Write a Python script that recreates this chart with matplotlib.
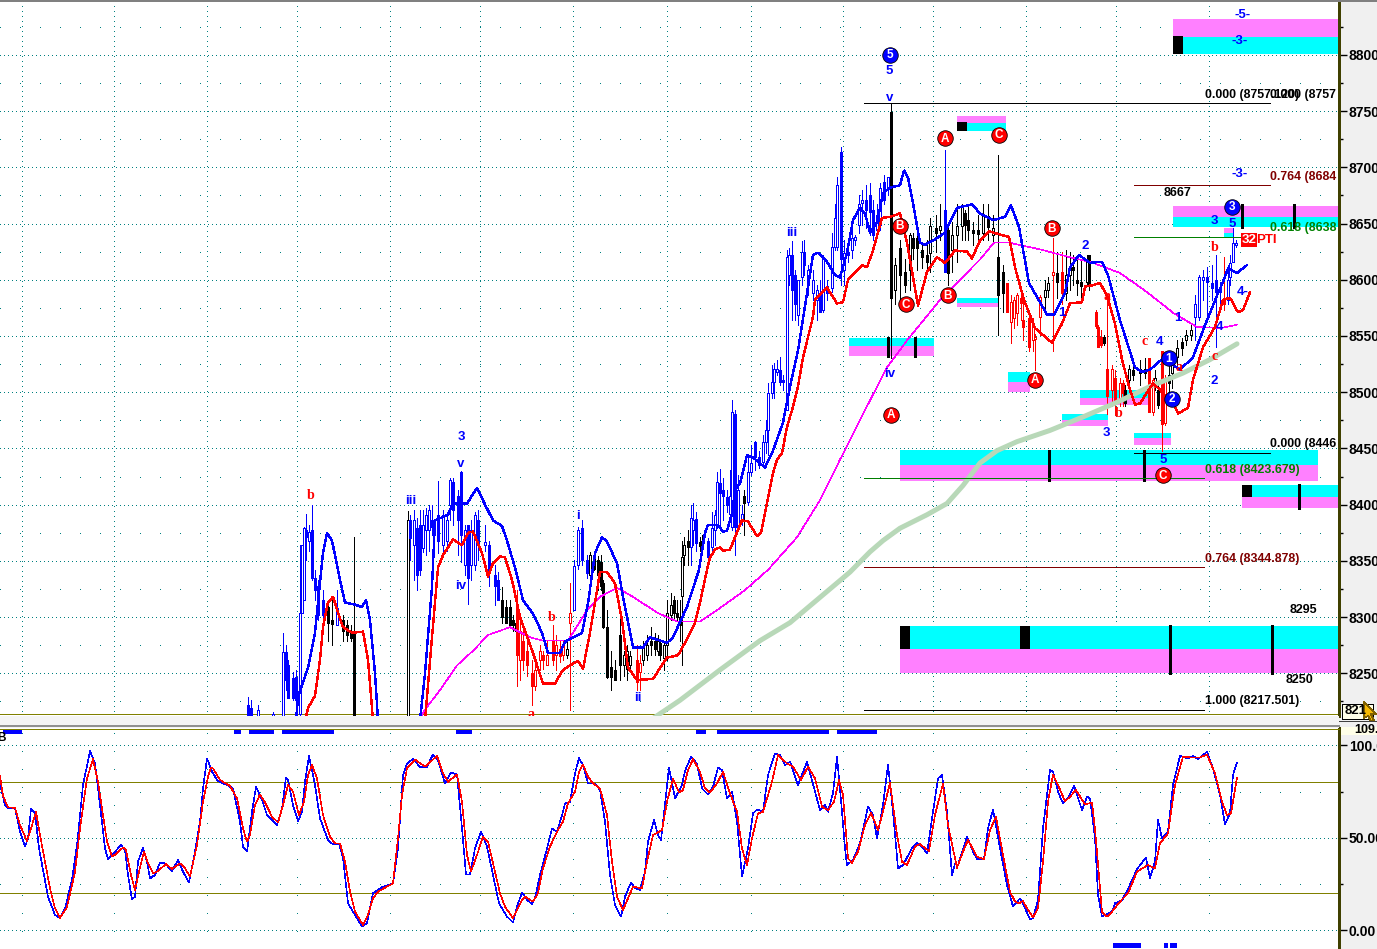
#!/usr/bin/env python3
"""Elliott wave price chart with fib levels, supply/demand zones and a stochastic panel."""
import matplotlib
matplotlib.use('Agg')
import matplotlib.pyplot as plt
from matplotlib.lines import Line2D
from matplotlib.patches import Polygon, Rectangle
from matplotlib.ticker import FixedLocator, FixedFormatter

W, H = 1377, 949
plt.rcParams['font.family'] = ['Liberation Sans', 'DejaVu Sans']
plt.rcParams['lines.antialiased'] = False
plt.rcParams['patch.antialiased'] = False

BLUE = '#0000ff'
RED = '#ff0000'
BLACK = '#000000'
OLIVE = '#808000'
TEAL = '#008080'

# candles: x, open, high, low, close
blue_1 = [(248,8222,8229,8208,8208),(251,8219,8226,8208,8208),(258,8208,8222,8208,8217),(273,8208,8216,8208,8214),
          (283,8208,8286,8208,8269),(286,8269,8275,8235,8244),(288,8257,8262,8228,8228),(293,8246,8251,8226,8228),
          (296,8247,8253,8217,8226),(300,8214,8364,8208,8304),(302,8304,8364,8304,8364),(304,8315,8380,8315,8379),
          (306,8377,8392,8351,8371),(309,8368,8382,8359,8376),(312,8377,8400,8333,8335),(315,8335,8342,8315,8324),
          (318,8328,8333,8297,8302),(323,8315,8324,8293,8302),(337,8293,8324,8295,8308)]
black_1 = [(328,8309,8315,8279,8295),(332,8297,8315,8275,8294),(343,8297,8302,8279,8288),(347,8293,8297,8279,8284),
           (351,8286,8293,8279,8281),(354,8288,8371,8208,8208),(408,8208,8394,8208,8386)]
blue_2 = [(410,8386,8391,8351,8370),(414,8364,8395,8333,8386),(417,8379,8388,8324,8337),(420,8382,8395,8337,8342),
          (423,8361,8395,8358,8382),(426,8377,8397,8355,8391),(429,8377,8400,8359,8395),(432,8386,8400,8373,8380),
          (438,8391,8421,8357,8368),(443,8364,8395,8355,8391),(447,8368,8393,8359,8386),(450,8400,8424,8386,8422),
          (453,8420,8424,8382,8395),(458,8408,8413,8355,8386),(461,8429,8430,8349,8373),(465,8346,8382,8337,8377),
          (468,8382,8382,8312,8335),(471,8346,8386,8333,8377),(475,8346,8393,8342,8391),(478,8386,8395,8351,8364),
          (485,8364,8382,8359,8367),(489,8364,8368,8328,8342),(495,8337,8346,8311,8328),(498,8333,8340,8315,8315)]
black_2 = [(502,8315,8327,8295,8300),(506,8309,8315,8295,8295),(510,8309,8315,8293,8293),(513,8297,8302,8288,8293),
           (516,8295,8295,8286,8288)]
red_1 = [(517,8312,8324,8239,8266),(520,8262,8297,8244,8288),(523,8279,8293,8253,8262),(527,8270,8279,8248,8257),
         (532,8250,8262,8222,8239),(535,8239,8262,8235,8253),(540,8262,8275,8253,8270),(543,8266,8270,8254,8262),
         (547,8257,8279,8257,8266),(553,8279,8293,8257,8262),(556,8266,8284,8253,8275),(560,8272,8279,8260,8265),
         (563,8266,8279,8262,8275),(570,8295,8330,8217,8304)]
black_3 = [(567,8266,8279,8264,8272)]
blue_3 = [(574,8306,8351,8306,8345),(578,8346,8380,8343,8377),(582,8379,8386,8346,8351),(587,8351,8355,8335,8339)]
black_4 = [(590,8337,8358,8328,8355),(594,8352,8357,8342,8343),(598,8351,8354,8324,8337),(601,8349,8355,8324,8328),
           (603,8330,8333,8290,8291),(607,8291,8306,8246,8247),(611,8256,8270,8235,8247),(615,8253,8262,8244,8244),
           (620,8284,8310,8244,8257),(624,8257,8270,8248,8266),(627,8254,8275,8244,8270),(630,8257,8270,8253,8265)]
red_2 = [(637,8262,8275,8235,8242),(640,8251,8266,8235,8259)]
black_5 = [(643,8262,8279,8257,8273),(647,8266,8284,8262,8275),(651,8279,8291,8266,8275),(655,8279,8286,8266,8272),
           (658,8270,8284,8266,8279),(660,8277,8279,8262,8266),(664,8264,8279,8253,8275),(667,8275,8315,8262,8304),
           (671,8302,8321,8297,8311),(674,8315,8319,8297,8304),(677,8304,8315,8297,8300),(680,8300,8315,8279,8293),
           (682,8319,8368,8257,8353),(684,8355,8371,8346,8364),(688,8368,8377,8346,8362)]
blue_4 = [(691,8362,8400,8346,8388),(693,8377,8401,8364,8386),(696,8387,8393,8359,8366)]
black_6 = [(700,8367,8371,8359,8363),(702,8364,8373,8358,8368),(744,8408,8413,8373,8401)]
blue_5 = [(708,8368,8370,8352,8353),(712,8362,8393,8359,8379),(715,8377,8395,8364,8391),(717,8382,8429,8379,8420),
          (720,8419,8432,8382,8410),(723,8413,8424,8386,8408),(727,8407,8413,8393,8400),(730,8392,8431,8391,8408),
          (732,8380,8493,8377,8482),(735,8481,8484,8355,8380),(738,8380,8426,8377,8413),(742,8386,8400,8382,8392),
          (748,8402,8444,8400,8429),(751,8429,8453,8426,8437),(755,8456,8457,8431,8442),(759,8442,8448,8433,8435),
          (763,8438,8462,8435,8456),(766,8456,8475,8446,8466),(768,8466,8508,8444,8499),(772,8499,8524,8495,8509),
          (774,8509,8526,8495,8521),(777,8518,8529,8515,8521),(780,8520,8531,8506,8509),(783,8511,8515,8502,8509),
          (787,8484,8626,8484,8620),(789,8604,8628,8595,8622),(792,8622,8634,8564,8591),(795,8604,8609,8564,8578),
          (798,8569,8600,8560,8600),(802,8602,8634,8595,8625),(804,8625,8635,8604,8613),(808,8595,8613,8586,8609),
          (813,8588,8609,8582,8600),(817,8582,8595,8564,8591),(820,8586,8600,8571,8571),(823,8573,8622,8571,8618),
          (827,8594,8600,8582,8588),(832,8593,8642,8589,8629),(835,8629,8667,8626,8655),(837,8629,8691,8626,8684),
          (841,8714,8718,8595,8618),(844,8609,8635,8595,8624),(848,8625,8631,8616,8622),(852,8626,8644,8619,8637),
          (855,8635,8640,8631,8638),(859,8649,8675,8642,8667),(862,8668,8680,8649,8671),(866,8671,8684,8646,8662),
          (870,8675,8686,8640,8660),(873,8662,8671,8635,8640),(877,8644,8667,8640,8658),(880,8649,8686,8644,8682),
          (884,8687,8693,8667,8671),(888,8682,8691,8675,8691)]
black_7 = [(891,8749,8756,8530,8584),(895,8591,8619,8578,8613),(900,8628,8635,8582,8604),(905,8607,8618,8589,8595),
           (910,8609,8642,8591,8640),(913,8637,8642,8618,8628),(917,8637,8649,8609,8628),(922,8626,8631,8610,8620),
           (927,8622,8635,8610,8616),(930,8624,8655,8607,8648),(936,8646,8658,8625,8642),(940,8644,8667,8635,8648)]
blue_6 = [(945,8662,8715,8607,8607)]
black_8 = [(948,8644,8650,8595,8606),(952,8626,8651,8607,8640),(957,8640,8667,8616,8648),(962,8648,8667,8635,8665),
           (965,8659,8662,8635,8649),(968,8653,8667,8635,8644),(973,8644,8651,8631,8642),(978,8644,8658,8635,8641),
           (983,8642,8667,8635,8658),(988,8657,8667,8635,8647),(993,8640,8658,8633,8646),(998,8620,8711,8551,8586),
           (1003,8607,8613,8571,8588)]
red_3 = [(1007,8597,8597,8571,8571),(1011,8562,8586,8544,8580),(1014,8566,8585,8557,8582),(1017,8570,8588,8560,8586),
         (1021,8584,8589,8564,8579),(1023,8564,8586,8546,8558),(1029,8566,8569,8537,8540),(1033,8546,8566,8537,8561),
         (1035,8547,8552,8520,8549),(1040,8567,8586,8551,8585),(1053,8604,8637,8537,8607),(1062,8607,8625,8578,8588)]
black_9 = [(1045,8585,8600,8573,8591),(1048,8591,8602,8585,8597),(1057,8606,8625,8584,8598),(1066,8588,8626,8582,8604),
           (1070,8604,8625,8591,8611),(1073,8611,8622,8595,8609),(1077,8600,8622,8586,8597),(1081,8598,8618,8582,8594),
           (1087,8598,8622,8595,8616),(1089,8622,8622,8591,8594),(1104,8549,8551,8542,8544)]
red_4 = [(1096,8571,8573,8557,8559),(1098,8558,8560,8540,8540),(1101,8549,8555,8540,8542),(1107,8521,8585,8481,8497),
         (1112,8502,8524,8488,8521),(1115,8513,8520,8480,8490),(1120,8493,8513,8488,8508),(1123,8508,8511,8488,8499)]
black_10 = [(1125,8502,8506,8488,8490),(1129,8511,8524,8506,8521),(1133,8520,8529,8511,8515),(1140,8521,8529,8506,8517),
            (1145,8521,8530,8513,8517),(1155,8508,8520,8502,8513),(1158,8502,8506,8486,8489)]
red_5 = [(1149,8530,8530,8482,8482),(1153,8482,8513,8480,8511),(1162,8537,8537,8448,8472),(1165,8473,8515,8471,8513),
         (1224,8584,8620,8573,8578)]
black_11 = [(1169,8515,8524,8497,8508),(1172,8517,8533,8504,8531),(1177,8531,8546,8524,8539),(1182,8545,8548,8533,8539),
            (1186,8546,8555,8542,8551),(1191,8551,8560,8546,8555)]
blue_7 = [(1195,8567,8586,8546,8578),(1199,8567,8604,8564,8602),(1203,8600,8609,8582,8602),(1207,8602,8611,8569,8598),
          (1212,8597,8613,8582,8593),(1216,8600,8622,8540,8589),(1220,8593,8598,8573,8589),(1228,8582,8613,8578,8600),
          (1230,8602,8622,8595,8615),(1233,8616,8646,8616,8633),(1236,8631,8635,8629,8633)]

# moving averages
blue_ma_x1 = [296,298,308,315,323,327,332,340,345,355,362,366,370,375,378]
blue_ma_y1 = [8208,8229,8255,8286,8357,8375,8368,8333,8313,8311,8309,8315,8297,8250,8208]
blue_ma_x2 = [420,425,432,435,448,453,467,477,485,493,502,507,515,523,533,542,548,560,565,573,582,588,595,602,607,617,
              623,633,643,650,667,673,687,699,705,708,718,723,727,732,735,740,747,753,765,773,783,790,798,807,813,818,
              827,835,840,847,853,860,865,870,877,883,890,900,904,908,913,920,925,937,945,957,972,980,993,1005,1011,
              1019,1029,1047,1054,1065,1070,1079,1090,1102,1108,1120,1135,1142,1150,1163,1180,1193,1203,1217,1223,
              1228,1237,1247]
blue_ma_y2 = [8208,8250,8327,8386,8391,8401,8401,8415,8400,8386,8381,8368,8344,8315,8303,8286,8268,8268,8278,8282,8286,
              8312,8357,8371,8367,8348,8318,8273,8273,8282,8277,8282,8309,8342,8375,8382,8382,8376,8377,8392,8413,8419,
              8444,8442,8433,8448,8473,8505,8537,8588,8622,8624,8616,8604,8602,8624,8653,8664,8659,8642,8651,8677,8682,
              8684,8697,8691,8668,8633,8631,8637,8642,8664,8667,8659,8653,8656,8666,8647,8597,8569,8569,8588,8611,8622,
              8615,8616,8604,8564,8522,8518,8520,8530,8520,8531,8555,8586,8598,8610,8606,8613]
red_ma_x1 = [305,308,315,320,323,328,333,338,343,352,363,368,373]
red_ma_y1 = [8208,8219,8230,8262,8291,8313,8318,8304,8291,8286,8287,8262,8208]
red_ma_x2 = [425,432,438,443,453,462,468,473,482,488,493,500,505,512,520,533,543,555,563,570,578,583,590,600,607,615,
             622,628,637,653,667,678,688,695,700,707,710,715,720,723,730,735,742,748,757,761,767,773,777,782,787,792,
             798,803,813,815,827,837,843,848,862,867,873,882,890,900,907,918,927,937,945,955,967,972,980,989,1009,
             1015,1024,1035,1052,1062,1070,1082,1085,1092,1100,1107,1115,1122,1130,1135,1140,1153,1160,1175,1178,
             1188,1193,1203,1215,1223,1230,1238,1243,1250]
red_ma_y2 = [8208,8282,8344,8355,8369,8364,8375,8376,8357,8336,8348,8354,8353,8333,8300,8268,8241,8241,8253,8257,8261,
             8254,8286,8340,8340,8330,8297,8255,8244,8245,8264,8266,8282,8295,8313,8342,8353,8360,8362,8359,8360,8371,
             8386,8385,8372,8375,8401,8428,8440,8446,8469,8484,8505,8531,8567,8582,8593,8579,8580,8600,8613,8611,8626,
             8655,8656,8659,8633,8577,8607,8620,8615,8626,8625,8619,8635,8643,8638,8611,8582,8557,8544,8561,8579,8580,
             8594,8595,8597,8586,8561,8529,8502,8489,8490,8508,8502,8487,8481,8486,8511,8540,8558,8582,8584,8571,8573,
             8589]
magenta_x = [418,427,440,457,473,488,510,530,543,568,587,600,617,633,657,677,700,720,745,768,783,797,820,840,865,887,
             907,940,980,994,1009,1040,1070,1093,1120,1147,1174,1197,1221,1237]
magenta_y = [8208,8220,8235,8257,8270,8284,8291,8282,8279,8279,8306,8318,8326,8318,8304,8296,8296,8308,8324,8342,8357,
             8371,8404,8440,8484,8522,8546,8582,8618,8633,8633,8627,8620,8615,8606,8589,8570,8558,8557,8560]
green_x = [650,680,720,760,790,810,850,870,883,900,927,947,963,980,997,1017,1050,1083,1117,1150,1183,1210,1237]
green_y = [8208,8226,8253,8279,8295,8310,8340,8358,8368,8379,8391,8401,8417,8437,8448,8456,8466,8478,8491,8505,8517,
           8529,8543]

# zones: magenta over cyan for the first four, cyan over magenta for the rest
zone_left = [1173,957,1173,1224,849,957,1008,1080,1062,1134,900,1242,900]
zone_right = [1338,1006,1338,1234,934,999,1030,1150,1108,1171,1318,1338,1338]
zone_top = [8832,8746,8666,8646,8548,8584,8518,8502,8481,8464,8449,8417,8292]
zone_mid = [8816,8739,8656,8642,8541,8579,8509,8495,8475,8459,8435,8407,8272]
zone_bottom = [8801,8732,8647,8637,8532,8576,8500,8489,8470,8453,8421,8397,8250]
block_x = [1178,962,1247,905,1025]
block_top = [8817,8740,8417,8292,8292]
block_bottom = [8801,8732,8407,8272,8272]
stop_x = [1242,1294,888,915,1049,1144,1299,1170,1272]
stop_top = [8667,8667,8549,8549,8449,8449,8418,8293,8293]
stop_bottom = [8646,8646,8531,8531,8421,8421,8396,8249,8249]

# fib levels
fib_left = [864,1134,1134,1134,864,864,864]
fib_right = [1270,1270,1243,1270,1204,1204,1204]
fib_price = [8757,8684,8638,8446,8423.7,8344.9,8217.5]
fib_color = [BLACK,'#800000','#008000',BLACK,'#008000','#800000',BLACK]
fib_text = ['0.000 (8757.120)','0.000 (8757','0.764 (8684','0.618 (8638','0.000 (8446','0.618 (8423.679)',
            '0.764 (8344.878)','1.000 (8217.501)']
fib_text_x = [1205,1270,1270,1270,1270,1205,1205,1205]
fib_text_y = [8764,8764,8691,8646,8454,8431,8352,8225]
fib_text_c = [BLACK,BLACK,'#800000','#008000',BLACK,'#008000','#800000',BLACK]

# wave labels
blue_lab = ['-5-','-3-','-3-','5','v','iii','iv','3','v','iii','iv','i','ii','3','5','2','1','1','4','4','4-','2','3','5']
blue_lab_x = [1243,1240,1240,889,890,792,890,461,461,411,461,578,638,1214,1232,1085,1062,1178,1160,1220,1243,1214,1106,1163]
blue_lab_y = [8835,8812,8694,8786,8762,8642,8516,8460,8436,8403,8328,8390,8228,8652,8650,8630,8570,8566,8545,8558,8589,
              8510,8464,8440]
red_lab = ['b','a','c','b','b','c','c','b','a','a']
red_lab_x = [311,531,570,552,1215,1145,1215,1119,1107,1179]
red_lab_y = [8408,8213,8208,8300,8629,8545,8532,8481,8585,8522]
red_circ = ['A','C','B','C','B','B','A','A','C']
red_circ_x = [945,999,900,906,948,1052,1035,891,1163]
red_circ_y = [8726,8729,8648,8578,8586,8646,8511,8480,8426]
blue_circ = ['5','3','1','2']
blue_circ_x = [890,1232,1169,1172]
blue_circ_y = [8800,8665,8530,8494]
note_text = ['8667','8295','8250']
note_x = [1177,1303,1300]
note_y = [8677,8306,8244]

# stochastic panel
stoch_blue_x = [0,5,8,15,20,25,28,31,35,39,43,48,55,60,65,72,77,83,90,95,100,105,108,115,121,125,128,132,135,138,143,
                147,150,155,160,165,172,178,183,189,195,200,203,207,212,218,227,233,240,243,247,252,256,262,267,277,
                282,286,288,293,298,302,305,309,315,320,328,333,339,343,348,357,362,367,373,383,393,398,403,407,413,
                420,427,433,438,445,451,457,462,466,470,475,481,487,493,499,507,513,517,522,527,532,535,540,547,552,
                557,563,565,570,575,579,583,588,595,600,605,610,615,621,625,631,635,640,645,648,654,658,661,663,666,
                669,675,682,685,691,697,702,708,713,718,722,727,732,737,742,748,753,757,763,768,775,780,785,790,798,
                807,815,820,825,828,833,837,842,845,847,853,860,868,873,877,883,888,893,898,903,912,917,922,927,933,
                938,942,947,952,955,958,967,973,977,984,988,993,1000,1007,1013,1020,1025,1030,1033,1038,1043,1050,
                1053,1058,1063,1068,1074,1082,1087,1090,1095,1098,1102,1107,1112,1115,1122,1128,1137,1146,1150,1155,
                1158,1162,1168,1173,1180,1188,1193,1198,1207,1213,1220,1225,1230,1233,1237]
stoch_blue_y = [79.4,67.7,65.9,66.2,53.3,45.2,49.7,65.5,63.7,44.3,32.6,18.2,8.3,6.5,11.9,27.2,46.1,78.5,96.8,90.2,67.7,
                44.3,38.5,42.5,46.1,43.4,29.9,16.7,18.2,37.1,44.6,37.1,28.1,29.9,36.7,36.2,32,38,31.7,25.9,42.5,58.7,
                76.7,92.9,85.7,80.6,78.5,76.7,58.7,45.2,42.5,64.1,77.6,70.4,62.3,56.9,65.9,82.6,81.2,67.7,59,64.1,80.3,
                94.3,78.5,60.5,48.8,46.4,47,38.9,14.6,6.5,2,3.8,20,23.6,25.4,44.3,83.9,90.2,92.5,88.4,88.4,95,92,79.4,
                85.3,84.2,55.1,30.2,30.2,44.3,53.3,45.2,29.9,14.6,7.4,4.3,12.8,20.5,16.4,14.2,17.3,29.9,44.3,55.1,53.3,
                64.1,68.6,69.5,84.8,93,89.3,79.4,79.4,75.8,58.7,29.9,13.7,7.4,18.2,25.9,22.7,21.8,31.7,47.9,59.6,51.5,
                48.8,58.7,73.1,88,71.3,78.5,86.2,93.7,90.1,76.7,73.4,77.6,88,86.6,71.3,74.9,58.7,29,44.3,63.2,65.3,
                64.1,83.9,95.6,94.7,89.3,91.1,78.5,91.1,74.9,65,67.7,64.1,74.2,93.8,64.1,44.3,35.3,38,47,66.8,62.3,
                49.7,67.7,89.6,64.1,33.5,35.3,44.3,47.3,45.2,41.6,64.1,82.1,83.9,64.1,29.9,36.2,35.3,50.6,42.5,38.5,
                38.5,55.1,65.3,44.3,24.5,12.8,17.3,11.9,6.1,6.5,16.4,55.1,86.6,85.7,74.9,68.6,71.3,78.1,65,72.2,71.3,
                49.7,19.1,7.4,8.8,10,14.6,16.2,22.3,33.1,39.4,28.4,37.1,59.6,49.7,53.3,78.5,94.3,92.9,94.3,92.5,96.5,
                87.5,73.1,57.4,63.2,83.9,90.7]
stoch_red_x = [0,3,8,15,20,27,32,36,40,45,50,55,60,67,75,80,87,93,98,103,107,112,117,123,126,131,135,139,144,148,153,
               157,166,172,180,185,190,197,203,208,211,213,220,230,237,243,247,250,255,260,265,272,278,283,288,293,
               299,304,308,312,317,323,330,335,340,345,350,355,363,368,373,378,387,393,398,402,407,415,425,437,443,
               448,457,462,467,471,477,483,488,495,500,505,513,522,525,533,538,543,550,557,563,568,575,579,583,588,
               593,600,607,612,617,623,628,633,642,647,653,662,667,673,679,683,688,693,700,705,710,717,723,730,737,
               742,747,752,758,763,772,778,787,793,801,808,815,822,828,834,839,843,848,852,858,865,871,878,883,890,
               897,902,907,915,920,929,935,943,948,957,963,968,977,984,990,996,1003,1010,1015,1019,1023,1028,1033,
               1038,1043,1048,1053,1058,1065,1070,1076,1085,1092,1095,1102,1107,1112,1120,1128,1137,1148,1155,1160,
               1168,1175,1183,1192,1200,1207,1215,1222,1227,1231,1237]
stoch_red_y = [83.5,72.7,66.4,66.2,56.9,48.2,56.9,64.1,51.5,37.1,22.7,11.9,6.8,12.6,31.5,55,82.1,92.5,80.3,62.3,47.9,
               39.8,41.6,44.8,43.4,29.9,21.8,31.7,42.5,36.2,30.8,31.7,35.8,33.1,36.2,33.5,29,46.1,69.5,83,87.8,87.5,
               81.2,78.1,71.3,55.1,47.9,51.5,67.7,73.4,69.1,61.4,58.3,67.7,78.5,74.9,62.3,69.5,83.9,89.3,82.1,62.3,
               50.6,47,47,37.1,20.9,10.1,2.9,8.3,17.3,20.9,23.6,25.4,49.7,73.1,87.5,92.3,88.4,94.3,84.8,80.3,84.2,
               69.5,40.7,31.7,40.7,50.6,47.9,31.7,20,12.8,6.5,16.4,18.2,15.5,20,33.5,45.2,53.3,58.7,68.6,74.9,85.7,
               89.6,83,79.4,76.7,62.3,37.1,18.2,11,17.3,23.6,22.7,37.1,51.5,54.2,69.5,82.1,74.5,75.8,86.6,92.5,85.7,
               76.7,74.5,79.4,85.7,74,64.1,44.3,35.3,49.7,63.2,64.1,80.3,94.7,90.2,88.4,81.2,88.4,82.1,66.8,65,69.5,
               81.2,73.1,38.9,36.5,42.5,56.9,63.5,54.2,64.1,79.7,51.5,37.1,35.3,45.2,46.6,42.8,62.3,79.4,56.9,33.8,
               42.5,48.8,39.8,38.5,54.2,61.4,40.7,20.9,15.5,14.6,15.8,11,7,11.9,37.1,69.5,84.2,78.5,69.8,72.2,75.8,
               68,69.1,55,10.1,7.4,10.1,15.5,20,31.7,35.3,33.5,47,52.4,78.5,93.8,93.4,93.4,95,84.8,69.5,62.3,63.2,82.6]
flag_left = [3,234,249,282,456,696,717,837]
flag_right = [21,240,273,333,471,705,828,876]
foot_left = [1113,1164,1170]
foot_right = [1140,1167,1176]

grid_x = [22,114,207,297,390,480,573,667,751,843,933,1026,1116,1209]


def draw_bars(ax, bars, color):
    for x, o, hi, lo, c in bars:
        ax.vlines(x, lo, hi, color=color, lw=0.55, zorder=3)
        filled = c < o
        ax.bar(x, max(abs(o - c), 1), bottom=min(o, c), width=2.6, facecolor=color if filled else 'white',
               edgecolor=color, lw=0.55, zorder=3)


def style_axes(ax):
    ax.set_xlim(0, 1339)
    ax.set_axisbelow(True)
    ax.xaxis.set_major_locator(FixedLocator(grid_x))
    ax.tick_params(axis='x', which='both', length=0, labelbottom=False)
    ax.yaxis.tick_right()
    ax.tick_params(axis='y', which='major', length=6, width=1, pad=1, labelsize=10, colors='black')
    ax.tick_params(axis='y', which='minor', length=3, width=1)
    for lab in ax.get_yticklabels():
        lab.set_fontweight('bold')
    for side in ['top', 'left', 'bottom']:
        ax.spines[side].set_visible(False)
    ax.spines['right'].set_color('#404000')
    ax.spines['right'].set_linewidth(2)
    ax.grid(True, which='major', axis='y', color=TEAL, lw=0.72, ls=(0, (1, 3)))
    ax.grid(True, which='minor', axis='y', color=TEAL, lw=0.72, ls=(0, (1, 20)))


fig = plt.figure(figsize=(W / 100, H / 100), dpi=100, facecolor='#f0f0f0')
ax = fig.add_axes([0, 1 - 716 / H, 1339 / W, 714 / H])
ax2 = fig.add_axes([0, 0, 1339 / W, (H - 728) / H])

# main panel
ax.set_ylim(8212, 8847)
ax.yaxis.set_major_locator(FixedLocator(list(range(8250, 8801, 50))))
ax.yaxis.set_minor_locator(FixedLocator(list(range(8225, 8826, 50))))
style_axes(ax)
ax.grid(True, which='major', axis='x', color=TEAL, lw=0.72, ls=(0, (1, 4.6)))

for i in range(len(zone_left)):
    top_col, low_col = ('#ff80ff', '#00ffff') if i < 4 else ('#00ffff', '#ff80ff')
    w = zone_right[i] - zone_left[i]
    ax.bar(zone_left[i], zone_top[i] - zone_mid[i], bottom=zone_mid[i], width=w, align='edge', color=top_col, zorder=1.5)
    ax.bar(zone_left[i], zone_mid[i] - zone_bottom[i], bottom=zone_bottom[i], width=w, align='edge', color=low_col, zorder=1.5)
for x, t, b in zip(block_x, block_top, block_bottom):
    ax.bar(x, t - b, bottom=b, width=10, color=BLACK, zorder=2)
ax.vlines(stop_x, stop_bottom, stop_top, color=BLACK, lw=1.9, zorder=2)

draw_bars(ax, blue_1, BLUE)
draw_bars(ax, black_1, BLACK)
draw_bars(ax, blue_2, BLUE)
draw_bars(ax, black_2, BLACK)
draw_bars(ax, red_1, RED)
draw_bars(ax, black_3, BLACK)
draw_bars(ax, blue_3, BLUE)
draw_bars(ax, black_4, BLACK)
draw_bars(ax, red_2, RED)
draw_bars(ax, black_5, BLACK)
draw_bars(ax, blue_4, BLUE)
draw_bars(ax, black_6, BLACK)
draw_bars(ax, blue_5, BLUE)
draw_bars(ax, black_7, BLACK)
draw_bars(ax, blue_6, BLUE)
draw_bars(ax, black_8, BLACK)
draw_bars(ax, red_3, RED)
draw_bars(ax, black_9, BLACK)
draw_bars(ax, red_4, RED)
draw_bars(ax, black_10, BLACK)
draw_bars(ax, red_5, RED)
draw_bars(ax, black_11, BLACK)
draw_bars(ax, blue_7, BLUE)

ax.plot(green_x, green_y, color='#b8d8b8', lw=3.6, zorder=3.2, antialiased=True, solid_capstyle='round')
ax.plot(magenta_x, magenta_y, color='#ff00ff', lw=0.42, zorder=3.4)
ax.plot(blue_ma_x1, blue_ma_y1, color=BLUE, lw=1.0, zorder=3.5)
ax.plot(blue_ma_x2, blue_ma_y2, color=BLUE, lw=1.0, zorder=3.5)
ax.plot(red_ma_x1, red_ma_y1, color=RED, lw=1.0, zorder=3.5)
ax.plot(red_ma_x2, red_ma_y2, color=RED, lw=1.0, zorder=3.5)

ax.axhline(8214, color=OLIVE, lw=0.7, zorder=2.5)
ax.hlines(fib_price, fib_left, fib_right, colors=fib_color, lw=0.6, zorder=3.6)
for t, x, y, c in zip(fib_text, fib_text_x, fib_text_y, fib_text_c):
    ax.text(x, y, t, color=c, fontsize=8.9, fontweight='bold', va='center', ha='left', clip_on=True, zorder=5)
for t, x, y in zip(note_text, note_x, note_y):
    ax.text(x, y, t, color=BLACK, fontsize=9, fontweight='bold', va='center', ha='center', zorder=5)
for t, x, y in zip(blue_lab, blue_lab_x, blue_lab_y):
    ax.text(x, y, t, color=BLUE, fontsize=9.5, fontweight='bold', va='center', ha='center', zorder=5)
for t, x, y in zip(red_lab, red_lab_x, red_lab_y):
    ax.text(x, y, t, color=RED, fontsize=10, fontweight='bold', va='center', ha='center', clip_on=True, zorder=5,
            family='Liberation Serif')
ax.scatter(red_circ_x, red_circ_y, s=125, color=RED, edgecolors='black', linewidths=0.6, zorder=6)
ax.scatter(blue_circ_x, blue_circ_y, s=125, color=BLUE, edgecolors='black', linewidths=0.6, zorder=6)
for t, x, y in zip(red_circ, red_circ_x, red_circ_y):
    ax.text(x, y - 0.5, t, color='white', fontsize=8.5, fontweight='bold', va='center', ha='center', zorder=7)
for t, x, y in zip(blue_circ, blue_circ_x, blue_circ_y):
    ax.text(x, y - 0.5, t, color='white', fontsize=8.5, fontweight='bold', va='center', ha='center', zorder=7)
ax.text(1249, 8635.5, '32', color='white', fontsize=9.5, fontweight='bold', va='center', ha='center', zorder=7,
        bbox=dict(boxstyle='square,pad=0.08', fc=RED, ec='none'))
ax.text(1256, 8635.5, 'PTI', color=RED, fontsize=9.5, fontweight='bold', va='center', ha='left', zorder=7)

# stochastic panel
ax2.set_ylim(-10.1, 109.35)
ax2.yaxis.set_major_locator(FixedLocator([0, 50, 100]))
ax2.yaxis.set_major_formatter(FixedFormatter(['0.00', '50.00', '100.0']))
ax2.yaxis.set_minor_locator(FixedLocator([25, 75]))
style_axes(ax2)
ax2.grid(True, which='major', axis='x', color=TEAL, lw=0.72, ls=(0, (1, 17.5)))
ax2.axhline(80, color=OLIVE, lw=0.7, zorder=2)
ax2.axhline(20, color=OLIVE, lw=0.7, zorder=2)
ax2.plot(stoch_blue_x, stoch_blue_y, color=BLUE, lw=0.42, zorder=3)
ax2.plot(stoch_red_x, stoch_red_y, color=RED, lw=0.42, zorder=3.1)
ax2.hlines([107.9] * len(flag_left), flag_left, flag_right, colors=BLUE, lw=2.2, zorder=3)
ax2.hlines([-8.2] * len(foot_left), foot_left, foot_right, colors=BLUE, lw=2.2, zorder=3)
ax2.text(-3, 104, 'B', color=BLACK, fontsize=8.5, fontweight='bold', va='center', ha='left', clip_on=True)

# frame: separator band, top rule, price flags and the mouse cursor
fig.add_artist(Rectangle((0, 1 - 728 / H), 1339 / W, 12 / H, transform=fig.transFigure, fc='#f4f4f4', ec='none'))
fig.add_artist(Line2D([0, 1339 / W], [1 - 726 / H] * 2, color='#909090', lw=1.4))
fig.add_artist(Line2D([0, 1339 / W], [1 - 728.5 / H] * 2, color=OLIVE, lw=0.7))
fig.add_artist(Line2D([0, 1], [1 - 1 / H] * 2, color='#808080', lw=1.2))
fig.add_artist(Line2D([1339 / W, 1], [1 - 721 / H] * 2, color='#404040', lw=0.7))
fig.add_artist(Rectangle((1342 / W, 1 - 719 / H), 31 / W, 15 / H, transform=fig.transFigure, fc='#ffffe8', ec='black', lw=0.7))
fig.text(1345 / W, 1 - 711 / H, '821', fontsize=9.5, fontweight='bold', va='center', ha='left')
fig.add_artist(Rectangle((1341 / W, 1 - 735 / H), 36 / W, 8 / H, transform=fig.transFigure, fc='#ffffe8', ec='none'))
fig.text(1354 / W, 1 - 730 / H, '109.', fontsize=9, fontweight='bold', va='center', ha='left')
fig.add_artist(Polygon([(1364 / W, 1 - 702 / H), (1376 / W, 1 - 714 / H), (1371 / W, 1 - 714 / H), (1374 / W, 1 - 721 / H),
                        (1371 / W, 1 - 721 / H), (1368 / W, 1 - 716 / H), (1364 / W, 1 - 718 / H)],
                       closed=True, transform=fig.transFigure, fc='#f5b800', ec='#806000', lw=0.6))

fig.savefig('out.png', dpi=100, facecolor=fig.get_facecolor())
plt.close(fig)
